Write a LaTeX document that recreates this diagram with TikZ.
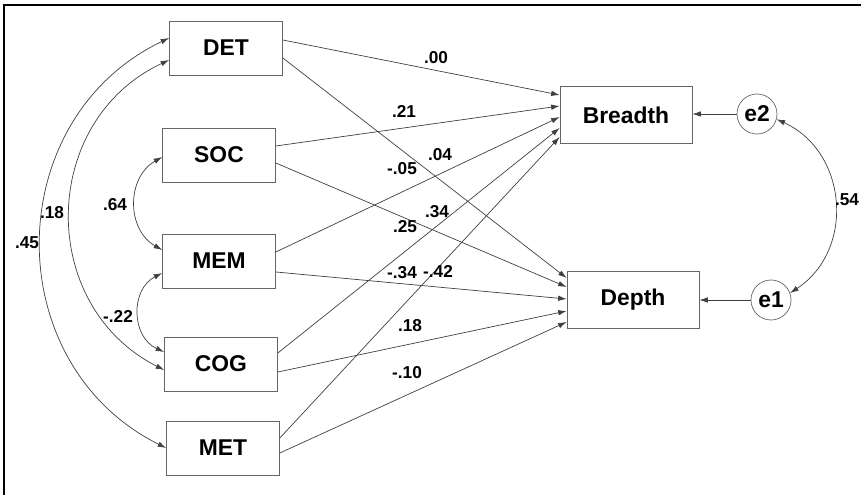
\documentclass[tikz,border=0pt]{standalone}
\usepackage{fontspec}
\setmainfont{Liberation Sans}
\usetikzlibrary{arrows.meta}

\begin{document}
\begin{tikzpicture}[>={Latex[length=1.7mm,width=1.1mm]},
	var/.style={draw=black!60, minimum width=2.26cm, minimum height=1.08cm, font=\fontsize{13}{15}\selectfont\bfseries},
	dep/.style={var, minimum width=2.64cm, minimum height=1.14cm},
	err/.style={draw=black!60, circle, minimum size=0.8cm, inner sep=0pt, font=\fontsize{13}{15}\selectfont\bfseries},
	path/.style={->, black!75},
	cov/.style={<->, black!75},
	coef/.style={inner sep=1pt, font=\fontsize{9.8}{11}\selectfont\bfseries}]
	\useasboundingbox (0,0) rectangle (17.22,9.9);
	%%%	Cornice
	\draw[line width=1.7pt] (0.08,0) -- (0.08,9.8) -- (17.22,9.8);
	
	%%%	Disegno
	% Variabili esogene
	\node[var] (DET) at (4.52,8.94) {DET};
	\node[var] (SOC) at (4.38,6.80) {SOC};
	\node[var] (MEM) at (4.38,4.68) {MEM};
	\node[var] (COG) at (4.42,2.62) {COG};
	\node[var] (MET) at (4.46,0.94) {MET};
	
	% Variabili endogene ed errori
	\node[dep] (Breadth) at (12.52,7.60) {Breadth};
	\node[dep] (Depth) at (12.66,3.90) {Depth};
	\node[err] (e2) at (15.14,7.62) {e2};
	\node[err] (e1) at (15.42,3.90) {e1};
	
	% Effetti diretti
	\draw[path] ([yshift=0.16cm]DET.east) -- ([yshift=0.40cm]Breadth.west);
	\draw[path] ([yshift=-0.20cm]DET.east) -- ([yshift=0.44cm]Depth.west);
	\draw[path] ([yshift=0.18cm]SOC.east) -- ([yshift=0.18cm]Breadth.west);
	\draw[path] ([yshift=-0.16cm]SOC.east) -- ([yshift=0.26cm]Depth.west);
	\draw[path] ([yshift=0.18cm]MEM.east) -- ([yshift=-0.04cm]Breadth.west);
	\draw[path] ([yshift=-0.22cm]MEM.east) -- ([yshift=0.02cm]Depth.west);
	\draw[path] ([yshift=0.22cm]COG.east) -- ([yshift=-0.26cm]Breadth.west);
	\draw[path] ([yshift=-0.16cm]COG.east) -- ([yshift=-0.22cm]Depth.west);
	\draw[path] ([yshift=0.20cm]MET.east) -- ([yshift=-0.44cm]Breadth.west);
	\draw[path] ([yshift=-0.10cm]MET.east) -- ([yshift=-0.44cm]Depth.west);
	\draw[path] (e2.west) -- (e2.west -| Breadth.east);
	\draw[path] (e1.west) -- (e1.west -| Depth.east);
	
	% Covarianze
	\draw[cov] ([yshift=0.20cm]DET.west) to[bend right=64, looseness=1.17] (MET.west);
	\draw[cov] ([yshift=-0.24cm]DET.west) to[bend right=64, looseness=1.18] ([yshift=-0.12cm]COG.west);
	\draw[cov] ([yshift=-0.04cm]SOC.west) to[bend right=60, looseness=1.14] ([yshift=0.22cm]MEM.west);
	\draw[cov] ([yshift=-0.24cm]MEM.west) to[bend right=64, looseness=1.17] ([yshift=0.24cm]COG.west);
	\draw[cov] (e2.-15) to[bend left=61, looseness=1.15] (e1.20);
	
	% Coefficienti
	\node[coef] (bDET) at (8.72,8.74) {.00};
	\node[coef] (bSOC) at (8.08,7.68) {.21};
	\node[coef] (bMEM) at (8.80,6.80) {.04};
	\node[coef] (dDET) at (8.04,6.52) {-.05};
	\node[coef] (bCOG) at (8.74,5.66) {.34};
	\node[coef] (dSOC) at (8.10,5.36) {.25};
	\node[coef] (dMEM) at (8.04,4.44) {-.34};
	\node[coef] (bMET) at (8.76,4.48) {-.42};
	\node[coef] (dCOG) at (8.20,3.38) {.18};
	\node[coef] (dMET) at (8.14,2.44) {-.10};
	\node[coef] (rSM) at (2.30,5.80) {.64};
	\node[coef] (rDC) at (1.04,5.64) {.18};
	\node[coef] (rDM) at (0.54,5.04) {.45};
	\node[coef] (rMC) at (2.36,3.58) {-.22};
	\node[coef] (rE) at (16.94,5.90) {.54};
\end{tikzpicture}
\end{document}
